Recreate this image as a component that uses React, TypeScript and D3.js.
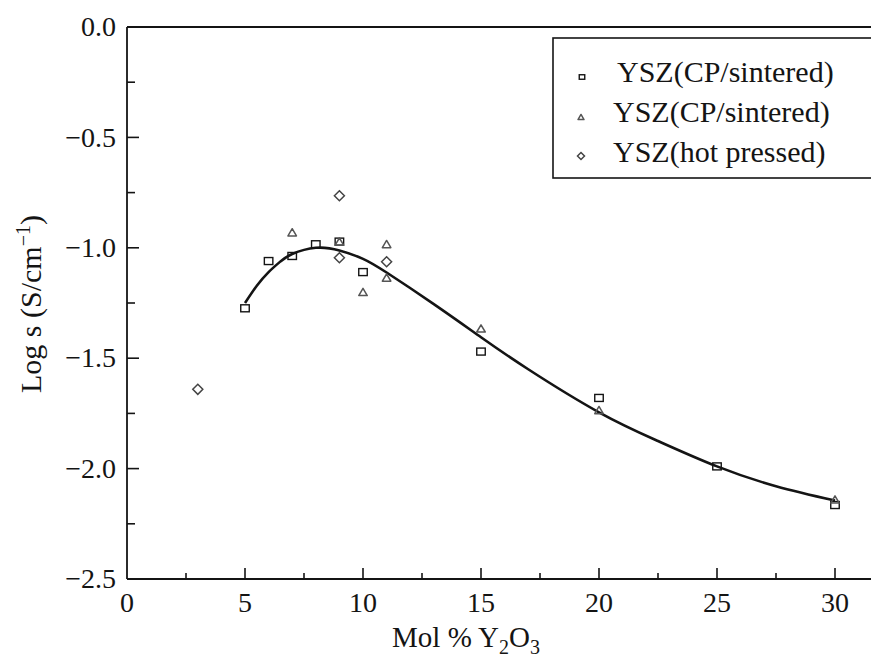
import React from "react";
import * as d3 from "d3";

// series
const squareX = [5, 6, 7, 8, 9, 10, 15, 20, 25, 30];
const squareY = [-1.274, -1.06, -1.037, -0.984, -0.972, -1.11, -1.47, -1.68, -1.99, -2.165];

const triangleX = [7, 9, 10, 11, 11, 15, 20, 30];
const triangleY = [-0.93, -0.972, -1.2, -0.983, -1.135, -1.365, -1.735, -2.14];

const diamondX = [3, 9, 9, 11];
const diamondY = [-1.641, -0.764, -1.045, -1.063];

// fitted curve
const fitX = [5, 5.5, 6, 6.5, 7, 8, 9, 10, 11, 13, 15, 17, 20, 22.5, 25, 27.5, 30];
const fitY = [-1.25, -1.172, -1.11, -1.062, -1.028, -1.0, -1.012, -1.05, -1.112, -1.255, -1.405, -1.55, -1.745, -1.875, -1.99, -2.08, -2.145];

const xTicks = [0, 5, 10, 15, 20, 25, 30];
const yTicks = [0, -0.5, -1.0, -1.5, -2.0, -2.5];
const legendLabels = ["YSZ(CP/sintered)", "YSZ(CP/sintered)", "YSZ(hot pressed)"];

const W = 871;
const H = 660;
const font = "'Liberation Serif', 'Times New Roman', serif";
const ink = "#141414";

const App = () => {
  const x = d3.scaleLinear().domain([0, 31.6]).range([127, 127 + 31.6 * 23.6]);
  const y = d3.scaleLinear().domain([-2.5, 0]).range([579, 27]);

  const xMinor = d3.range(2.5, 31, 5);
  const yMinor = d3.range(-0.25, -2.5, -0.5);

  const line = d3.line<[number, number]>()
    .x(d => x(d[0]))
    .y(d => y(d[1]))
    .curve(d3.curveNatural);
  const fitPts: [number, number][] = fitX.map((v, i) => [v, fitY[i]]);

  const square = (cx: number, cy: number, w = 8.5, h = 7) => (
    <rect x={cx - w / 2} y={cy - h / 2} width={w} height={h} fill="none" stroke={ink} strokeWidth={1.4} />
  );
  const triangle = (cx: number, cy: number, s = 8.5) => {
    const h = s * 0.85;
    return (
      <path d={`M${cx},${cy - h / 2}L${cx + s / 2},${cy + h / 2}L${cx - s / 2},${cy + h / 2}Z`}
        fill="none" stroke="#555" strokeWidth={1.5} strokeLinejoin="round" />
    );
  };
  const diamond = (cx: number, cy: number, s = 5) => (
    <path d={`M${cx},${cy - s}L${cx + s},${cy}L${cx},${cy + s}L${cx - s},${cy}Z`}
      fill="none" stroke="#444" strokeWidth={1.5} />
  );

  const x0 = x(0), y0 = y(-2.5), yTop = y(0);

  return (
    <div>
      <style>{`body{margin:0}`}</style>
      <svg width={W} height={H} style={{ display: "block", background: "#fff", fontFamily: font }}>
        {/* frame */}
        <line x1={x0} x2={W + 5} y1={yTop} y2={yTop} stroke={ink} strokeWidth={1.8} />
        <line x1={x0} x2={W + 5} y1={y0} y2={y0} stroke={ink} strokeWidth={1.8} />
        <line x1={x0} x2={x0} y1={yTop} y2={y0} stroke={ink} strokeWidth={1.8} />

        {/* x ticks */}
        {xTicks.map(t => (
          <g key={"xt" + t}>
            {t > 0 && <line x1={x(t)} x2={x(t)} y1={y0} y2={y0 - 11} stroke={ink} strokeWidth={1.6} />}
            <text x={x(t)} y={612} textAnchor="middle" fontSize={28} fill={ink}>{t}</text>
          </g>
        ))}
        {xMinor.map(t => (
          <line key={"xm" + t} x1={x(t)} x2={x(t)} y1={y0} y2={y0 - 6} stroke={ink} strokeWidth={1.6} />
        ))}

        {/* y ticks */}
        {yTicks.map(t => (
          <g key={"yt" + t}>
            {t !== 0 && t !== -2.5 && <line x1={x0} x2={x0 + 12} y1={y(t)} y2={y(t)} stroke={ink} strokeWidth={1.6} />}
            <text x={116} y={y(t)} dy="0.33em" textAnchor="end" fontSize={28} fill={ink}>
              {t === 0 ? "0.0" : "\u2212" + Math.abs(t).toFixed(1)}
            </text>
          </g>
        ))}
        {yMinor.map(t => (
          <line key={"ym" + t} x1={x0} x2={x0 + 8} y1={y(t)} y2={y(t)} stroke={ink} strokeWidth={1.6} />
        ))}

        {/* axis titles */}
        <text transform="translate(41,304) rotate(-90)" textAnchor="middle" fontSize={30} fill={ink}>
          Log s (S/cm<tspan dy={-11} fontSize={20}>{"\u22121"}</tspan><tspan dy={11}>)</tspan>
        </text>
        <text x={466} y={647} textAnchor="middle" fontSize={29} fill={ink}>
          Mol % Y<tspan dy={7} fontSize={20}>2</tspan><tspan dy={-7}>O</tspan><tspan dy={7} fontSize={20}>3</tspan>
        </text>

        {/* fitted curve */}
        <path d={line(fitPts) || ""} fill="none" stroke={ink} strokeWidth={2.6} />

        {/* data markers */}
        {squareX.map((v, i) => <g key={"s" + i}>{square(x(v), y(squareY[i]))}</g>)}
        {triangleX.map((v, i) => <g key={"t" + i}>{triangle(x(v), y(triangleY[i]))}</g>)}
        {diamondX.map((v, i) => <g key={"d" + i}>{diamond(x(v), y(diamondY[i]))}</g>)}

        {/* legend */}
        <rect x={553} y={38} width={340} height={140} fill="#fff" stroke={ink} strokeWidth={1.6} />
        {square(582, 77, 5.5, 4.5)}
        {triangle(581, 117, 6)}
        {diamond(581, 156, 3.5)}
        {legendLabels.map((lab, i) => (
          <text key={"l" + i} x={i === 0 ? 617 : 613} y={[82, 122, 162][i]} fontSize={30} fill={ink}>{lab}</text>
        ))}
      </svg>
    </div>
  );
};

export default App;
